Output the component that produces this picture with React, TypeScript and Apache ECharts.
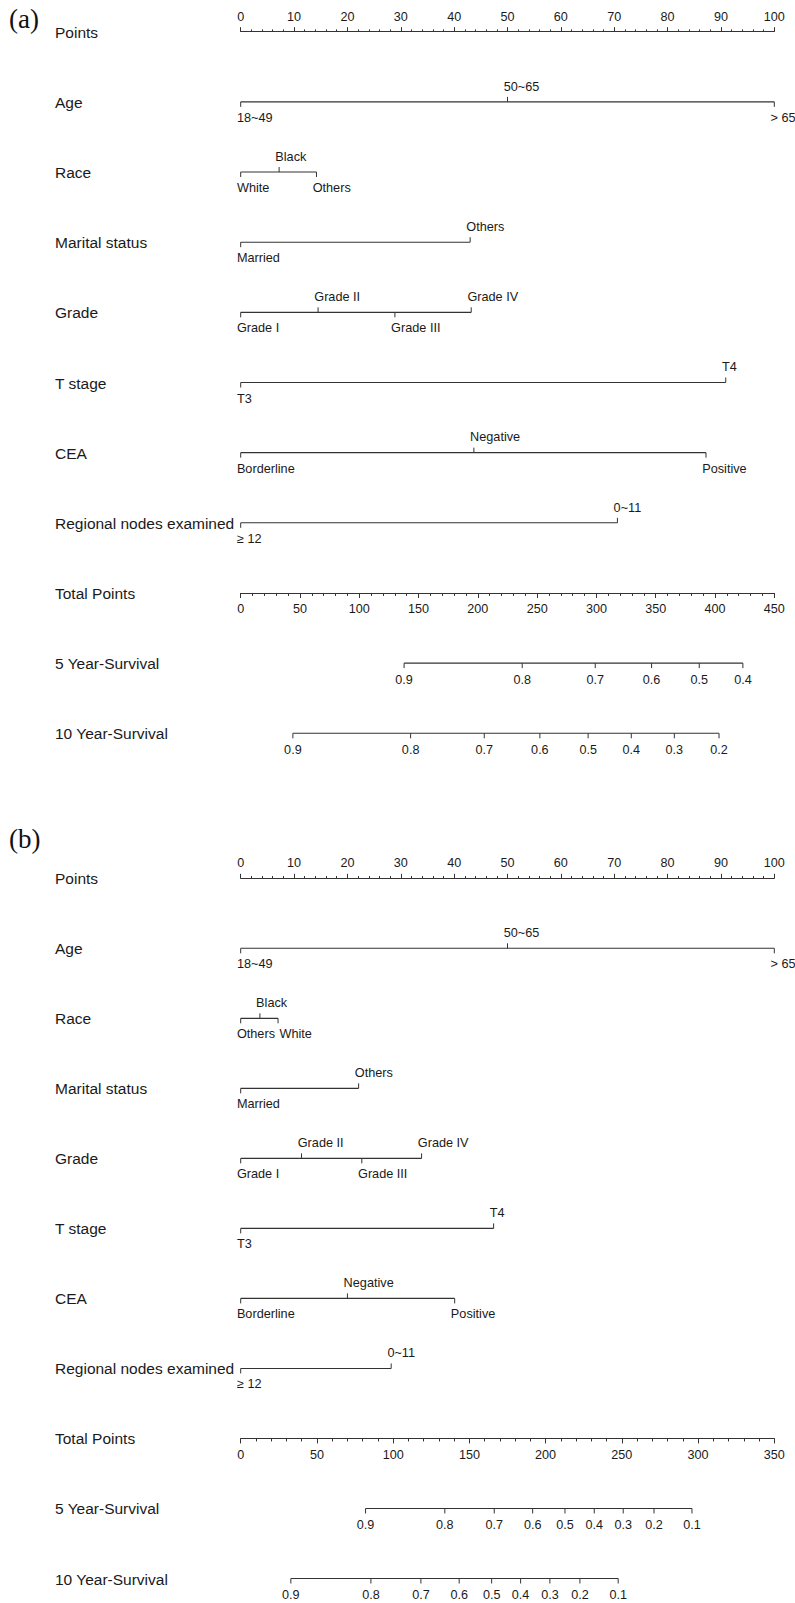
import React, { useEffect, useRef } from "react";
import * as echarts from "echarts";

// ---------- data ----------
const rowTitles = [
  "Points",
  "Age",
  "Race",
  "Marital status",
  "Grade",
  "T stage",
  "CEA",
  "Regional nodes examined",
  "Total Points",
  "5 Year-Survival",
  "10 Year-Survival",
];

const ageLevels = ["18~49", "50~65", "> 65"];
const maritalLevels = ["Married", "Others"];
const gradeLevels = ["Grade I", "Grade II", "Grade III", "Grade IV"];
const tLevels = ["T3", "T4"];
const ceaLevels = ["Borderline", "Negative", "Positive"];
const nodesLevels = ["\u2265 12", "0~11"];

// panel (a)
const raceLevelsA = ["White", "Black", "Others"];
const agePtsA = [0, 50, 100];
const racePtsA = [0, 7.2, 14.2];
const maritalPtsA = [0, 43.0];
const gradePtsA = [0, 14.5, 28.9, 43.2];
const tPtsA = [0, 90.9];
const ceaPtsA = [0, 43.7, 87.2];
const nodesPtsA = [0, 70.6];
const totalMaxA = 450;
const surv5LabelsA = ["0.9", "0.8", "0.7", "0.6", "0.5", "0.4"];
const surv5TotalsA = [137.8, 237.4, 299.0, 346.5, 386.7, 423.5];
const surv10LabelsA = ["0.9", "0.8", "0.7", "0.6", "0.5", "0.4", "0.3", "0.2"];
const surv10TotalsA = [44.0, 143.3, 205.4, 252.3, 293.0, 329.4, 365.7, 403.4];

// panel (b)
const raceLevelsB = ["Others", "Black", "White"];
const agePtsB = [0, 50, 100];
const racePtsB = [0, 3.6, 7.0];
const maritalPtsB = [0, 22.1];
const gradePtsB = [0, 11.4, 22.7, 33.9];
const tPtsB = [0, 47.4];
const ceaPtsB = [0, 20.0, 40.1];
const nodesPtsB = [0, 28.2];
const totalMaxB = 350;
const surv5LabelsB = ["0.9", "0.8", "0.7", "0.6", "0.5", "0.4", "0.3", "0.2", "0.1"];
const surv5TotalsB = [81.9, 133.9, 166.3, 191.5, 212.7, 231.9, 250.9, 271.1, 296.0];
const surv10LabelsB = ["0.9", "0.8", "0.7", "0.6", "0.5", "0.4", "0.3", "0.2", "0.1"];
const surv10TotalsB = [32.9, 85.4, 118.2, 143.3, 164.6, 183.6, 202.8, 222.5, 247.6];

// ---------- styles ----------
const LEFT = 240.7;
const WIDTH = 533.6;
const TITLE_X = 55;
const FONT = '"Liberation Sans", Arial, Helvetica, sans-serif';
const INK = "#1a1a1a";
const LINE = "#333333";
const LW = 1.1;
const LEVEL_FS = 12.7;

type Row = { labels: string[]; pts: number[] };

let measureCtx: CanvasRenderingContext2D | null = null;
function textWidth(t: string, fs: number) {
  if (!measureCtx) {
    const c = document.createElement("canvas");
    measureCtx = c.getContext("2d");
  }
  if (!measureCtx) return t.length * fs * 0.55;
  measureCtx.font = `${fs}px ${FONT}`;
  return measureCtx.measureText(t).width;
}

const panels = [
  {
    tag: "(a)",
    tagY: 18.5,
    top: 31.7,
    step: 70.16,
    totalMax: totalMaxA,
    vars: [
      { labels: ageLevels, pts: agePtsA },
      { labels: raceLevelsA, pts: racePtsA },
      { labels: maritalLevels, pts: maritalPtsA },
      { labels: gradeLevels, pts: gradePtsA },
      { labels: tLevels, pts: tPtsA },
      { labels: ceaLevels, pts: ceaPtsA },
      { labels: nodesLevels, pts: nodesPtsA },
    ] as Row[],
    surv: [
      { labels: surv5LabelsA, pts: surv5TotalsA },
      { labels: surv10LabelsA, pts: surv10TotalsA },
    ] as Row[],
  },
  {
    tag: "(b)",
    tagY: 838.5,
    top: 878.3,
    step: 70.02,
    totalMax: totalMaxB,
    vars: [
      { labels: ageLevels, pts: agePtsB },
      { labels: raceLevelsB, pts: racePtsB },
      { labels: maritalLevels, pts: maritalPtsB },
      { labels: gradeLevels, pts: gradePtsB },
      { labels: tLevels, pts: tPtsB },
      { labels: ceaLevels, pts: ceaPtsB },
      { labels: nodesLevels, pts: nodesPtsB },
    ] as Row[],
    surv: [
      { labels: surv5LabelsB, pts: surv5TotalsB },
      { labels: surv10LabelsB, pts: surv10TotalsB },
    ] as Row[],
  },
];

function buildOption() {
  const grid: any[] = [];
  const xAxis: any[] = [];
  const yAxis: any[] = [];
  const series: any[] = [];
  const graphic: any[] = [];

  panels.forEach((p) => {
    const gMain = grid.length;
    grid.push({ left: LEFT, width: WIDTH, top: p.top, height: p.step * 10 });
    const gTot = grid.length;
    grid.push({ left: LEFT, width: WIDTH, top: p.top + p.step * 8 - 10, height: 10 });

    const xPts = xAxis.length;
    xAxis.push({
      type: "value",
      gridIndex: gMain,
      position: "top",
      min: 0,
      max: 100,
      interval: 10,
      axisLine: { show: true, onZero: false, lineStyle: { color: LINE, width: LW } },
      axisTick: { show: true, length: 4.5, lineStyle: { color: LINE, width: 1 } },
      minorTick: { show: true, splitNumber: 5, length: 2.3, lineStyle: { color: LINE, width: 1 } },
      axisLabel: { show: true, margin: 8.5, fontSize: 12.6, color: INK, fontFamily: FONT },
      splitLine: { show: false },
      minorSplitLine: { show: false },
    });
    const xTotHidden = xAxis.length;
    xAxis.push({
      type: "value",
      gridIndex: gMain,
      position: "bottom",
      min: 0,
      max: p.totalMax,
      show: false,
      splitLine: { show: false },
    });
    xAxis.push({
      type: "value",
      gridIndex: gTot,
      position: "bottom",
      min: 0,
      max: p.totalMax,
      interval: 50,
      axisLine: { show: true, onZero: false, lineStyle: { color: LINE, width: LW } },
      axisTick: { show: true, length: 5, lineStyle: { color: LINE, width: 1 } },
      minorTick: { show: true, splitNumber: 5, length: 3, lineStyle: { color: LINE, width: 1 } },
      axisLabel: { show: true, margin: 10, fontSize: 12.6, color: INK, fontFamily: FONT },
      splitLine: { show: false },
      minorSplitLine: { show: false },
    });

    const yMain = yAxis.length;
    yAxis.push({ type: "value", gridIndex: gMain, min: 0, max: 10, inverse: true, show: false, splitLine: { show: false } });
    yAxis.push({ type: "value", gridIndex: gTot, min: 0, max: 1, show: false, splitLine: { show: false } });

    // row titles
    series.push({
      type: "custom",
      xAxisIndex: xPts,
      yAxisIndex: yMain,
      silent: true,
      data: rowTitles.map((t, i) => [0, i]),
      renderItem: (params: any, api: any) => {
        const c = api.coord([0, api.value(1)]);
        return {
          type: "text",
          x: TITLE_X,
          y: c[1] + 0.5,
          style: {
            text: rowTitles[params.dataIndex],
            fill: INK,
            fontSize: 15.5,
            fontFamily: FONT,
            align: "left",
            verticalAlign: "middle",
          },
        };
      },
    });

    // variable rows
    series.push({
      type: "custom",
      xAxisIndex: xPts,
      yAxisIndex: yMain,
      silent: true,
      data: p.vars.map((v, i) => [0, i + 1]),
      renderItem: (params: any, api: any) => {
        const v = p.vars[params.dataIndex];
        const row = api.value(1);
        const cs = v.pts.map((x) => api.coord([x, row]));
        const y = cs[0][1];
        const children: any[] = [
          {
            type: "line",
            shape: { x1: cs[0][0], y1: y, x2: cs[cs.length - 1][0], y2: y },
            style: { stroke: LINE, lineWidth: LW },
          },
        ];
        const lastRight = [-Infinity, -Infinity]; // [below, above]
        cs.forEach((c: number[], k: number) => {
          const up = k % 2 === 1;
          const side = up ? 1 : 0;
          children.push({
            type: "line",
            shape: { x1: c[0], y1: y, x2: c[0], y2: up ? y - 5 : y + 5 },
            style: { stroke: LINE, lineWidth: 1 },
          });
          let tx = c[0] - 3.8;
          if (tx < lastRight[side] + 4.5) tx = lastRight[side] + 4.5;
          lastRight[side] = tx + textWidth(v.labels[k], LEVEL_FS);
          children.push({
            type: "text",
            x: tx,
            y: up ? y - 15.3 : y + 16,
            style: {
              text: v.labels[k],
              fill: INK,
              fontSize: LEVEL_FS,
              fontFamily: FONT,
              align: "left",
              verticalAlign: "middle",
            },
          });
        });
        return { type: "group", children };
      },
    });

    // survival rows
    series.push({
      type: "custom",
      xAxisIndex: xTotHidden,
      yAxisIndex: yMain,
      silent: true,
      data: p.surv.map((s, i) => [0, 9 + i]),
      renderItem: (params: any, api: any) => {
        const s = p.surv[params.dataIndex];
        const row = api.value(1);
        const cs = s.pts.map((x) => api.coord([x, row]));
        const y = cs[0][1];
        const children: any[] = [
          {
            type: "line",
            shape: { x1: cs[0][0], y1: y, x2: cs[cs.length - 1][0], y2: y },
            style: { stroke: LINE, lineWidth: LW },
          },
        ];
        cs.forEach((c: number[], k: number) => {
          children.push({
            type: "line",
            shape: { x1: c[0], y1: y, x2: c[0], y2: y + 5 },
            style: { stroke: LINE, lineWidth: 1 },
          });
          children.push({
            type: "text",
            x: c[0],
            y: y + 16.7,
            style: {
              text: s.labels[k],
              fill: INK,
              fontSize: 12.6,
              fontFamily: FONT,
              align: "center",
              verticalAlign: "middle",
            },
          });
        });
        return { type: "group", children };
      },
    });

    graphic.push({
      type: "text",
      x: 9,
      y: p.tagY,
      silent: true,
      style: {
        text: p.tag,
        fill: "#111",
        fontSize: 27,
        fontFamily: '"Liberation Serif", "Times New Roman", serif',
        align: "left",
        verticalAlign: "middle",
      },
    });
  });

  return {
    animation: false,
    backgroundColor: "#ffffff",
    grid,
    xAxis,
    yAxis,
    series,
    graphic,
  };
}

export default function App() {
  const ref = useRef<HTMLDivElement>(null);
  useEffect(() => {
    if (!ref.current) return;
    const chart = echarts.init(ref.current, undefined, { renderer: "svg" });
    chart.setOption(buildOption() as any);
    return () => chart.dispose();
  }, []);
  return (
    <div
      ref={ref}
      style={{ position: "absolute", left: 0, top: 0, width: 795, height: 1603, background: "#fff" }}
    />
  );
}
